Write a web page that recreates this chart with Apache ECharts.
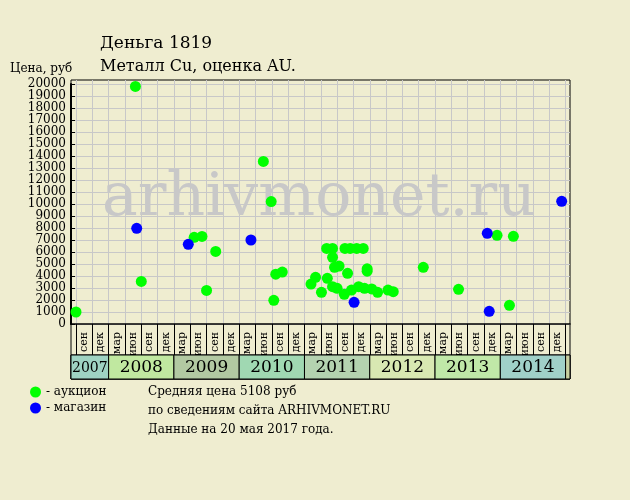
<!DOCTYPE html>
<html><head><meta charset="utf-8">
<script src="https://cdn.jsdelivr.net/npm/echarts@6/dist/echarts.min.js"></script>
<style>html,body{margin:0;padding:0;background:#efedd0}#c{width:630px;height:500px}</style>
</head><body><div id="c"></div><script>
// ---- data ----
const quarterLabels = ['сен','дек',
  'мар','июн','сен','дек', 'мар','июн','сен','дек', 'мар','июн','сен','дек',
  'мар','июн','сен','дек', 'мар','июн','сен','дек', 'мар','июн','сен','дек',
  'мар','июн','сен','дек'];
const years = [2007, 2008, 2009, 2010, 2011, 2012, 2013, 2014];
// dates as decimal years, prices in roubles
const greenDates = [2007.50, 2008.41, 2008.50, 2009.31, 2009.43, 2009.50, 2009.64, 2010.37, 2010.49, 2010.53,
  2010.56, 2010.66, 2011.10, 2011.17, 2011.26, 2011.35, 2011.34, 2011.43, 2011.43, 2011.46,
  2011.53, 2011.43, 2011.50, 2011.61, 2011.66, 2011.62, 2011.70, 2011.80, 2011.90, 2011.72,
  2011.83, 2011.92, 2011.96, 2011.96, 2012.03, 2012.12, 2012.28, 2012.36, 2012.82, 2013.36,
  2013.95, 2014.14, 2014.20];
const greenPrices = [1000, 19800, 3550, 7225, 7300, 2800, 6050, 13550, 10200, 1975,
  4150, 4330, 3330, 3890, 2640, 3810, 6300, 6300, 5560, 4725,
  4830, 3110, 2975, 2475, 4225, 6300, 6300, 6300, 6300, 2830,
  3110, 2975, 4600, 4400, 2920, 2640, 2830, 2690, 4725, 2890,
  7390, 1560, 7310];
const blueDates = [2008.43, 2009.22, 2010.18, 2011.76, 2013.80, 2013.83, 2014.94];
const bluePrices = [7975, 6640, 7000, 1810, 7560, 1060, 10225];
const seriesNames = ['аукцион', 'магазин'];
const titleText = 'Деньга 1819';
const subTitleText = 'Металл Cu, оценка AU.';
const yAxisTitle = 'Цена, руб';
const noteLines = ['Средняя цена 5108 руб', 'по сведениям сайта ARHIVMONET.RU', 'Данные на 20 мая 2017 года.'];

// ---- layout / style ----
const bandColors = ['#9fd3c3', '#c0e8a0', '#b2c9a2', '#a0d8b2', '#b4d2b0', '#d8e8b2', '#c0e8a8', '#a0d0c8'];
const tailColor = '#c8d0a0';
const pxPerYear = 489.6 / 7.5;
const axisMin = 2007.5 - 5 / pxPerYear;
const axisMax = 2015 + 4.4 / pxPerYear;
const FONT = '"DejaVu Serif", serif';

const bandData = years.map(y => [Math.max(y, axisMin), y + 1, String(y)]);
bandData.push([2015, axisMax, '']);

const chart = echarts.init(document.getElementById('c'), null, {renderer: 'canvas'});
chart.setOption({
  animation: false,
  backgroundColor: '#efedd0',
  textStyle: {fontFamily: FONT},
  grid: [
    {left: 71, right: 60, top: 80, bottom: 121, show: true, borderColor: '#000', borderWidth: 1, backgroundColor: 'transparent'},
    {left: 71, right: 60, top: 84, bottom: 176},
    {left: 76, right: 64.4, top: 80, bottom: 176},
    {left: 71, right: 60, top: 355, bottom: 121, show: true, borderColor: '#000', borderWidth: 1, backgroundColor: 'transparent'}
  ],
  xAxis: [
    {gridIndex: 0, type: 'value', show: false, min: 0, max: 1},
    {gridIndex: 1, type: 'value', min: axisMin, max: axisMax,
      axisLine: {show: true, onZero: false, lineStyle: {color: '#000', width: 1.5}},
      axisTick: {show: false}, axisLabel: {show: false}, splitLine: {show: false}},
    {gridIndex: 2, type: 'value', min: 2007.5, max: 2015, interval: 0.25,
      axisLine: {show: false}, axisTick: {show: false}, axisLabel: {show: false},
      splitLine: {show: true, lineStyle: {color: '#c8c8c8', width: 1}}},
    {gridIndex: 2, type: 'category', data: quarterLabels, boundaryGap: true, position: 'bottom',
      axisLine: {show: false},
      axisTick: {show: true, length: 31, lineStyle: {color: '#000', width: 1}},
      axisLabel: {rotate: 90, margin: 8, fontSize: 11, color: '#000', fontFamily: FONT, interval: 0},
      splitLine: {show: false}},
    {gridIndex: 3, type: 'value', show: false, min: axisMin, max: axisMax}
  ],
  yAxis: [
    {gridIndex: 0, type: 'value', show: false, min: 0, max: 1},
    {gridIndex: 1, type: 'value', min: 0, max: 20000, interval: 1000,
      axisLine: {show: true, lineStyle: {color: '#000', width: 2}},
      axisTick: {show: true, inside: true, length: 4, lineStyle: {color: '#000'}},
      axisLabel: {fontSize: 12, lineHeight: 11, color: '#000', margin: 5, fontFamily: FONT,
        formatter: v => String(v), showMinLabel: true, showMaxLabel: true, hideOverlap: false},
      splitLine: {show: true, lineStyle: {color: '#c8c8c8', width: 1}}},
    {gridIndex: 2, type: 'value', show: false, min: 0, max: 1},
    {gridIndex: 3, type: 'value', show: false, min: 0, max: 1}
  ],
  legend: {
    orient: 'vertical', left: 30, top: 386, itemWidth: 11, itemHeight: 11, itemGap: 4,
    icon: 'circle', data: seriesNames,
    formatter: n => '- ' + n,
    textStyle: {fontSize: 12, color: '#000', fontFamily: FONT}, padding: 0
  },
  graphic: [
    {type: 'text', x: 319, y: 199, z: 1, silent: true,
      style: {text: 'arhivmonet.ru', font: '60px ' + FONT, fill: '#c8c8c8', align: 'center', verticalAlign: 'middle'}},
    {type: 'text', x: 100, y: 44, style: {text: titleText, font: '17px ' + FONT, fill: '#000', verticalAlign: 'middle'}},
    {type: 'text', x: 100, y: 67, style: {text: subTitleText, font: '16px ' + FONT, fill: '#000', verticalAlign: 'middle'}},
    {type: 'text', x: 10, y: 69, style: {text: yAxisTitle, font: '12px ' + FONT, fill: '#000', verticalAlign: 'middle'}},
    {type: 'text', x: 148, y: 392, style: {text: noteLines[0], font: '12px ' + FONT, fill: '#000', verticalAlign: 'middle'}},
    {type: 'text', x: 148, y: 411, style: {text: noteLines[1], font: '12px ' + FONT, fill: '#000', verticalAlign: 'middle'}},
    {type: 'text', x: 148, y: 430, style: {text: noteLines[2], font: '12px ' + FONT, fill: '#000', verticalAlign: 'middle'}}
  ],
  series: [
    {name: seriesNames[0], type: 'scatter', xAxisIndex: 1, yAxisIndex: 1, symbolSize: 11, z: 3,
      itemStyle: {color: '#00ff00', opacity: 1},
      data: greenDates.map((d, i) => [d, greenPrices[i]])},
    {name: seriesNames[1], type: 'scatter', xAxisIndex: 1, yAxisIndex: 1, symbolSize: 11, z: 4,
      itemStyle: {color: '#0000ff', opacity: 1},
      data: blueDates.map((d, i) => [d, bluePrices[i]])},
    {type: 'custom', xAxisIndex: 4, yAxisIndex: 3, clip: false, silent: true,
      data: bandData,
      renderItem: function (params, api) {
        const s = api.coord([api.value(0), 1]);
        const e = api.coord([api.value(1), 0]);
        const i = params.dataIndex;
        const w = e[0] - s[0];
        const fill = i < bandColors.length ? bandColors[i] : tailColor;
        const lab = bandData[i][2];
        return {type: 'group', children: [
          {type: 'rect', shape: {x: s[0], y: s[1], width: w, height: e[1] - s[1]},
            style: {fill: fill, stroke: '#000', lineWidth: 1}},
          {type: 'text', x: (s[0] + e[0]) / 2, y: (s[1] + e[1]) / 2 + 1,
            style: {text: lab, font: (w < 45 ? '14px ' : '17px ') + FONT, fill: '#000',
              align: 'center', verticalAlign: 'middle', textAlign: 'center', textVerticalAlign: 'middle'}}
        ]};
      }}
  ]
});
</script></body></html>
